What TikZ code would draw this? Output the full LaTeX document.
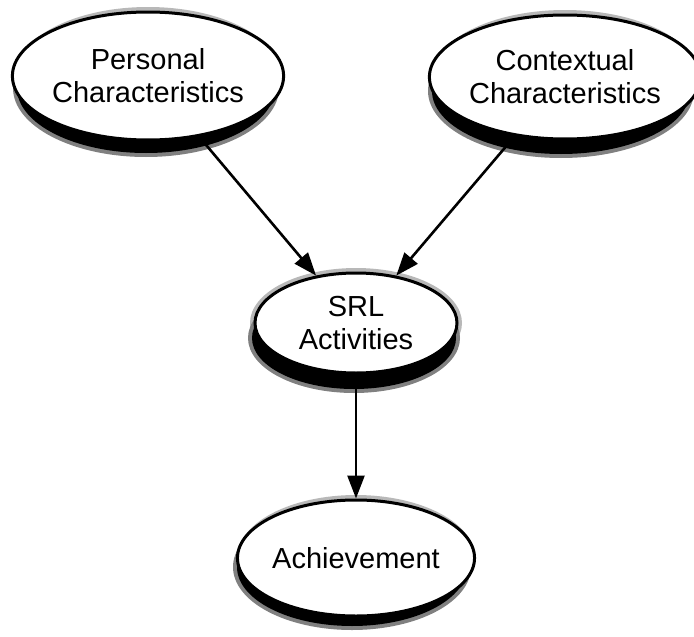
\documentclass[tikz,border=0pt]{standalone}
\usepackage{fontspec}
\setmainfont{Liberation Sans}
\usetikzlibrary{shapes.geometric,arrows.meta,backgrounds}
\begin{document}
\begin{tikzpicture}[x=1pt,y=-1pt,
  oval/.style={ellipse, draw=black, line width=3pt, fill=white, inner sep=0pt, align=center, font=\fontsize{29}{33}\selectfont},
  conn/.style={line width=2.6pt, -{Triangle[length=23pt,width=17pt]}},
  halo/.style={fill=black!28},
  halo2/.style={fill=black!50},
  shad/.style={fill=black}]
\useasboundingbox (0,0) rectangle (694,637);
\node[oval, minimum width=257pt, minimum height=128pt] (pc) at (148,76) {Personal\\Characteristics};
\node[oval, minimum width=256pt, minimum height=124pt] (cc) at (565,77) {Contextual\\Characteristics};
\node[oval, minimum width=202pt, minimum height=100pt] (srl) at (356,323) {SRL\\Activities};
\node[oval, minimum width=228pt, minimum height=116pt] (ach) at (356,558) {Achievement};
\begin{pgfonlayer}{background}
  \fill[halo] (pc) ellipse [x radius=133, y radius=69];
  \fill[halo2] (pc) ++(-2,12) ellipse [x radius=133, y radius=69];
  \fill[shad] (pc) ++(-2,12) ellipse [x radius=129, y radius=65];
  \fill[halo] (cc) ellipse [x radius=133, y radius=67];
  \fill[halo2] (cc) ++(-4,14) ellipse [x radius=133, y radius=67];
  \fill[shad] (cc) ++(-4,14) ellipse [x radius=129, y radius=63];
  \fill[halo] (srl) ellipse [x radius=106, y radius=55];
  \fill[halo2] (srl) ++(-2,15) ellipse [x radius=106, y radius=55];
  \fill[shad] (srl) ++(-2,15) ellipse [x radius=102, y radius=51];
  \fill[halo] (ach) ellipse [x radius=119, y radius=63];
  \fill[halo2] (ach) ++(-4,9) ellipse [x radius=119, y radius=63];
  \fill[shad] (ach) ++(-4,9) ellipse [x radius=115, y radius=59];
\end{pgfonlayer}
\draw[conn] (pc) -- (srl);
\draw[conn] (cc) -- (srl);
\draw[conn] (srl) -- (ach);
\end{tikzpicture}
\end{document}
